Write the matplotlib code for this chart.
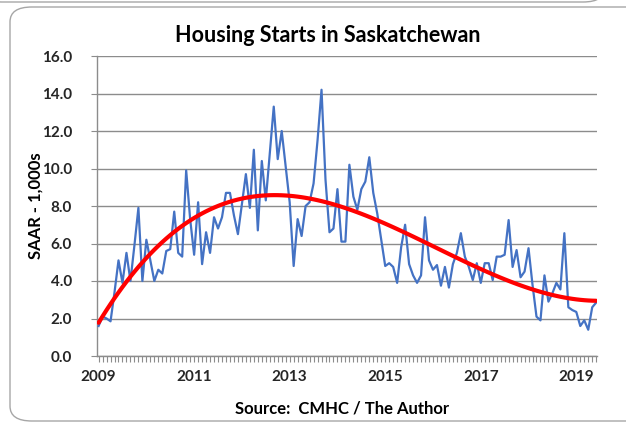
import numpy as np
import matplotlib
matplotlib.use('Agg')
import matplotlib.pyplot as plt
from matplotlib.patches import FancyBboxPatch
from matplotlib.ticker import MultipleLocator, FixedLocator, FuncFormatter

# monthly housing starts (SAAR, thousands), Jan 2009 onward
starts_2009 = [1.6, 2.1, 2.0, 1.85, 3.4, 5.1, 3.9, 5.5, 4.0, 5.9, 7.9, 4.0]
starts_2010 = [6.2, 5.1, 4.0, 4.6, 4.4, 5.6, 5.7, 7.7, 5.5, 5.3, 9.9, 7.3]
starts_2011 = [5.4, 8.2, 4.9, 6.6, 5.5, 7.4, 6.8, 7.4, 8.7, 8.7, 7.5, 6.5]
starts_2012 = [8.1, 9.7, 7.9, 11.0, 6.7, 10.4, 8.3, 10.8, 13.3, 10.5, 12.0, 10.1]
starts_2013 = [8.2, 4.8, 7.3, 6.4, 8.0, 8.2, 9.2, 11.5, 14.2, 9.4, 6.6, 6.8]
starts_2014 = [8.9, 6.1, 6.1, 10.2, 8.5, 7.8, 8.9, 9.3, 10.6, 8.7, 7.6, 6.2]
starts_2015 = [4.8, 4.95, 4.75, 3.9, 5.8, 7.0, 4.9, 4.3, 3.9, 4.3, 7.4, 5.1]
starts_2016 = [4.6, 4.85, 3.75, 4.75, 3.65, 4.9, 5.5, 6.55, 5.3, 4.75, 4.05, 4.95]
starts_2017 = [3.9, 4.95, 4.95, 4.05, 5.3, 5.3, 5.4, 7.25, 4.75, 5.65, 4.2, 4.5]
starts_2018 = [5.75, 3.8, 2.1, 1.9, 4.3, 2.9, 3.35, 3.9, 3.55, 6.55, 2.6, 2.45]
starts_2019 = [2.35, 1.6, 1.9, 1.4, 2.6, 2.85]

starts = np.array(starts_2009 + starts_2010 + starts_2011 + starts_2012 + starts_2013
                  + starts_2014 + starts_2015 + starts_2016 + starts_2017 + starts_2018
                  + starts_2019)
months = np.arange(len(starts))

year_labels = ['2009', '2011', '2013', '2015', '2017', '2019']
year_ticks = [0, 24, 48, 72, 96, 120]

# polynomial trendline through the monthly series
coef = np.polyfit(months, starts, 3)
trend = np.polyval(coef, months)

plt.rcParams['font.family'] = ['Lato', 'DejaVu Sans']

fig = plt.figure(figsize=(6.26, 4.24), dpi=100)
W, H = 626, 424

# chart frame with rounded corners, plus the edge of the frame above it
frame = FancyBboxPatch((10 / W, 3 / H), 640 / W, 414 / H,
                       boxstyle='round,pad=0,rounding_size=0.035',
                       transform=fig.transFigure, facecolor='white',
                       edgecolor='#a6a6a6', linewidth=1.0, zorder=-10)
fig.patches.append(frame)
above = FancyBboxPatch((-20 / W, 422 / H), 625 / W, 100 / H,
                       boxstyle='round,pad=0,rounding_size=0.035',
                       transform=fig.transFigure, facecolor='white',
                       edgecolor='#a6a6a6', linewidth=1.0, zorder=-10)
fig.patches.append(above)

ax = fig.add_axes([97 / W, (H - 356) / H, 500 / W, 300 / H])
ax.set_facecolor('none')
ax.set_zorder(1)

ax.plot(months, starts, color='#4472c4', linewidth=1.6, zorder=3)
ax.plot(months, trend, color='#ff0000', linewidth=3.0, zorder=4,
        solid_capstyle='round')

ax.set_xlim(-0.4, 125.2)
ax.set_ylim(0, 16)
ax.yaxis.set_major_locator(MultipleLocator(2))
ax.yaxis.set_major_formatter(FuncFormatter(lambda v, p: f'{v:.1f}'))
ax.xaxis.set_major_locator(FixedLocator(year_ticks))
ax.set_xticklabels(year_labels)
ax.xaxis.set_minor_locator(MultipleLocator(1))

ax.grid(axis='y', color='#8c8c8c', linewidth=1.0)
ax.set_axisbelow(True)
for side in ['top', 'right']:
    ax.spines[side].set_visible(False)
for side in ['left', 'bottom']:
    ax.spines[side].set_color('#8c8c8c')
    ax.spines[side].set_linewidth(1.0)

ax.tick_params(axis='x', which='both', direction='out', length=4, width=0.8,
               color='#8c8c8c', pad=6)
ax.tick_params(axis='y', which='major', direction='out', length=4, width=0.8,
               color='#8c8c8c', pad=14)
for lbl in ax.get_xticklabels() + ax.get_yticklabels():
    lbl.set_fontsize(11)
    lbl.set_fontweight('bold')
    lbl.set_color('#262626')

fig.text(328 / W, 1 - 35 / H, 'Housing Starts in Saskatchewan', ha='center',
         va='center', fontsize=15.5, fontweight='bold', color='black')
fig.text(36 / W, 1 - 206 / H, 'SAAR - 1,000s', ha='center', va='center',
         rotation=90, fontsize=12, fontweight='bold', color='black')
fig.text(342 / W, 1 - 409 / H, 'Source:  CMHC / The Author', ha='center',
         va='center', fontsize=12, fontweight='bold', color='black')

fig.savefig('out.png', dpi=100)
